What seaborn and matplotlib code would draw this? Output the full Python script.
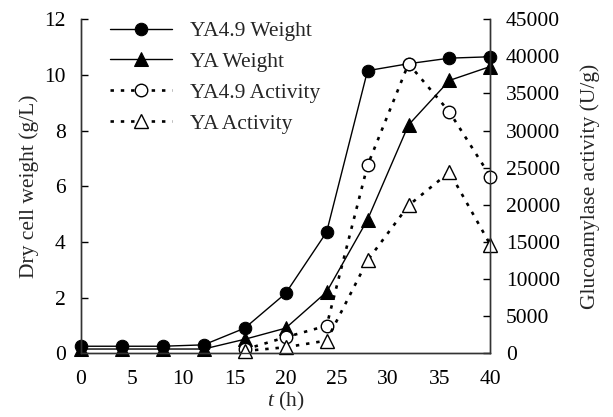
import numpy as np
import pandas as pd
import matplotlib
matplotlib.use("Agg")
import matplotlib.pyplot as plt
import seaborn as sns

time_h = [0, 4, 8, 12, 16, 20, 24, 28, 32, 36, 40]
ya49_weight = [0.25, 0.25, 0.25, 0.3, 0.9, 2.15, 4.35, 10.15, 10.4, 10.6, 10.65]
ya_weight = [0.15, 0.15, 0.15, 0.15, 0.5, 0.9, 2.2, 4.8, 8.2, 9.8, 10.3]
act_time = [16, 20, 24, 28, 32, 36, 40]
ya49_activity = [500, 2150, 3700, 25300, 39000, 32500, 23800]
ya_activity = [300, 800, 1700, 12500, 19900, 24400, 14600]
x_ticks = [0, 5, 10, 15, 20, 25, 30, 35, 40]
left_ticks = [0, 2, 4, 6, 8, 10, 12]
right_ticks = [0, 5000, 10000, 15000, 20000, 25000, 30000, 35000, 40000, 45000]

sns.set_theme(style="white")
plt.rcParams['font.family'] = ['Liberation Serif', 'DejaVu Serif']
plt.rcParams['mathtext.fontset'] = 'custom'
plt.rcParams['mathtext.it'] = 'Liberation Serif:italic'
plt.rcParams['mathtext.rm'] = 'Liberation Serif'

FS = 15.5
fig = plt.figure(figsize=(6.13, 4.17), dpi=100)
ax = fig.add_axes([0.132, 0.153, 0.668, 0.801])
ax2 = ax.twinx()

lw = 1.0
dash = (0, (1.3, 2.6))
sns.lineplot(x=time_h, y=ya49_weight, ax=ax, color='black', lw=lw, marker='o',
             markersize=9, markerfacecolor='black', markeredgecolor='black', clip_on=False,
             label='YA4.9 Weight', legend=False)
sns.lineplot(x=time_h, y=ya_weight, ax=ax, color='black', lw=lw, marker='^',
             markersize=9.5, markerfacecolor='black', markeredgecolor='black', clip_on=False,
             label='YA Weight', legend=False)
sns.lineplot(x=act_time, y=ya49_activity, ax=ax2, color='black', lw=1.9, linestyle=dash,
             marker='o', markersize=9, markerfacecolor='white', markeredgecolor='black',
             markeredgewidth=1.0, clip_on=False, label='YA4.9 Activity', legend=False)
sns.lineplot(x=act_time, y=ya_activity, ax=ax2, color='black', lw=1.9, linestyle=dash,
             marker='^', markersize=9.5, markerfacecolor='white', markeredgecolor='black',
             markeredgewidth=1.0, clip_on=False, label='YA Activity', legend=False)

ax.set_xlim(0, 40)
ax.set_ylim(0, 12)
ax2.set_ylim(0, 45000)
ax.set_xticks(x_ticks)
ax.set_yticks(left_ticks)
ax2.set_yticks(right_ticks)
ax2.set_yticklabels([str(v) for v in right_ticks])

for a in (ax, ax2):
    a.spines['top'].set_visible(False)
    for s in a.spines.values():
        s.set_color('#333333')
        s.set_linewidth(1.0)
    a.tick_params(direction='in', length=5, width=1.0, colors='black', labelsize=FS, pad=11)
    a.grid(False)
ax.tick_params(axis='x', pad=12)
ax.patch.set_visible(False)

ax.set_xlabel('$t$ (h)', fontsize=FS, labelpad=1)
ax.set_ylabel('Dry cell weight (g/L)', fontsize=FS, labelpad=4)
ax2.set_ylabel('Glucoamylase activity (U/g)', fontsize=FS, labelpad=15)

h1, l1 = ax.get_legend_handles_labels()
h2, l2 = ax2.get_legend_handles_labels()
leg = ax2.legend(h1 + h2, l1 + l2, loc='upper left', bbox_to_anchor=(0.05, 1.02),
                 frameon=False, fontsize=FS, handlelength=2.9, handletextpad=0.8,
                 labelspacing=0.5, borderaxespad=0)

fig.savefig('out.png', dpi=100)
